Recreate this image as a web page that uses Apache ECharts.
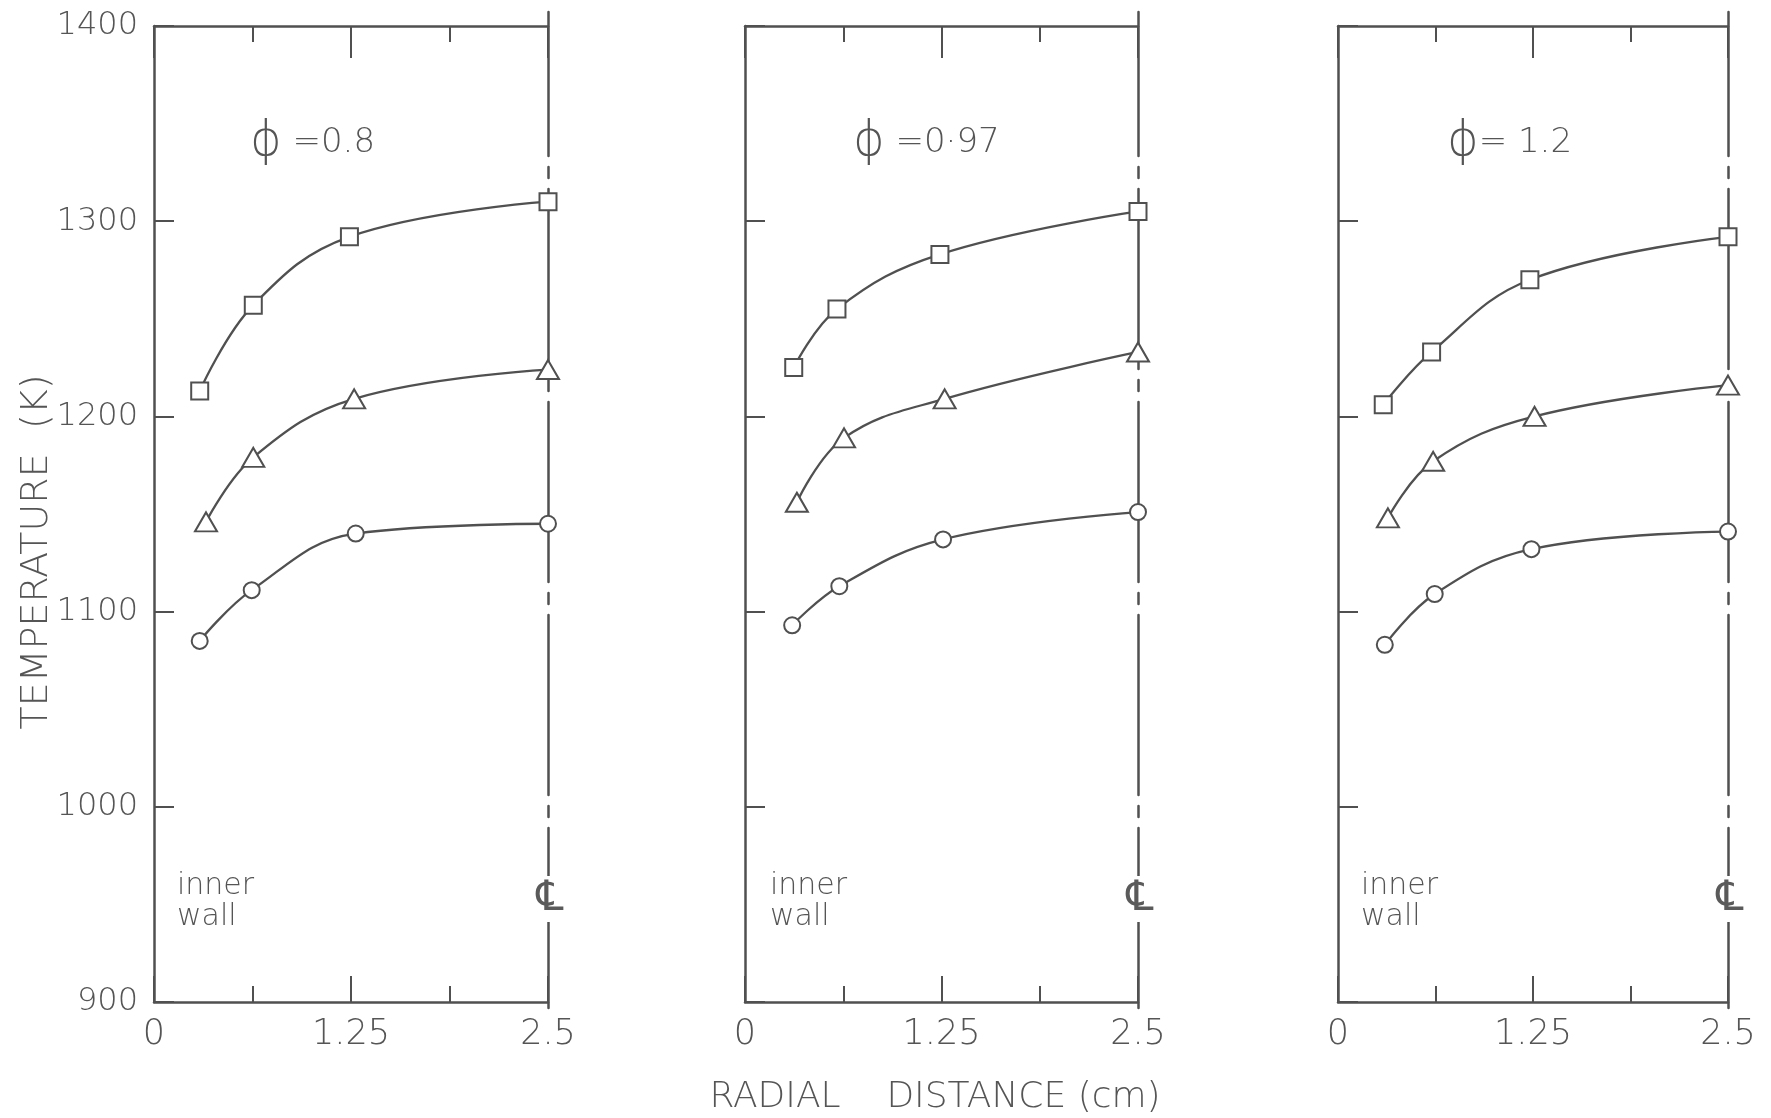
<!DOCTYPE html>
<html><head><meta charset="utf-8">
<script src="https://cdn.jsdelivr.net/npm/echarts@6/dist/echarts.min.js"></script>
<style>html,body{margin:0;padding:0;background:#fff}#c{width:1771px;height:1118px}</style>
</head><body><div id="c"></div>
<script>
// ---- data (radial distance in cm, temperature in K) ----
const panelPhi = ['=0.8', '=0\u00B797', '= 1.2'];
const xTickLabels = ['0', '1.25', '2.5'];
const yTickLabels = ['900', '1000', '1100', '1200', '1300', '1400'];

// phi = 0.8
const p1SquareX = [0.29, 0.63, 1.24, 2.5];
const p1SquareT = [1213, 1257, 1292, 1310];
const p1TriX    = [0.33, 0.63, 1.27, 2.5];
const p1TriT    = [1146, 1179, 1209, 1224];
const p1CircX   = [0.29, 0.62, 1.28, 2.5];
const p1CircT   = [1085, 1111, 1140, 1145];
// phi = 0.97
const p2SquareX = [0.31, 0.585, 1.24, 2.5];
const p2SquareT = [1225, 1255, 1283, 1305];
const p2TriX    = [0.33, 0.63, 1.27, 2.5];
const p2TriT    = [1156, 1189, 1209, 1233];
const p2CircX   = [0.30, 0.60, 1.26, 2.5];
const p2CircT   = [1093, 1113, 1137, 1151];
// phi = 1.2
const p3SquareX = [0.29, 0.60, 1.23, 2.5];
const p3SquareT = [1206, 1233, 1270, 1292];
const p3TriX    = [0.32, 0.61, 1.26, 2.5];
const p3TriT    = [1148, 1177, 1200, 1216];
const p3CircX   = [0.30, 0.62, 1.24, 2.5];
const p3CircT   = [1083, 1109, 1132, 1141];

// ---- layout / style ----
const FONT = '"DejaVu Sans", sans-serif';
const FW = 200;
const INK = '#505050';
const TXT = '#555555';
const panels = [
  {left: 154, width: 394},
  {left: 745, width: 393},
  {left: 1338, width: 390}
];
const TOP = 26, HEIGHT = 976;

const grid = [], xAxis = [], yAxis = [], series = [];
panels.forEach((p, i) => {
  grid.push({left: p.left, top: TOP, width: p.width, height: HEIGHT});
});
panels.forEach((p, i) => {
  grid.push({left: p.left, top: 12, width: p.width, height: 1001});
});

const axLine = {show: true, onZero: false, lineStyle: {color: INK, width: 2.5}};
panels.forEach((p, i) => {
  // bottom x axis
  xAxis.push({
    gridIndex: i, type: 'value', min: 0, max: 2.5, interval: 1.25, position: 'bottom',
    axisLine: axLine,
    axisTick: {show: true, inside: true, length: 26, lineStyle: {color: INK, width: 2}},
    minorTick: {show: true, splitNumber: 2, length: 16, lineStyle: {color: INK, width: 2}},
    splitLine: {show: false}, minorSplitLine: {show: false},
    axisLabel: {show: true, margin: 15, fontSize: 35, color: TXT, fontFamily: FONT, fontWeight: FW,
      formatter: v => xTickLabels[Math.round(v / 1.25)]}
  });
  // top x axis
  xAxis.push({
    gridIndex: i, type: 'value', min: 0, max: 2.5, interval: 1.25, position: 'top',
    axisLine: axLine,
    axisTick: {show: true, inside: true, length: 32, lineStyle: {color: INK, width: 2}},
    minorTick: {show: true, splitNumber: 2, length: 16, lineStyle: {color: INK, width: 2}},
    splitLine: {show: false}, minorSplitLine: {show: false},
    axisLabel: {show: false}
  });
  yAxis.push({
    gridIndex: i, type: 'value', min: 900, max: 1400, interval: 100, position: 'left',
    axisLine: axLine,
    axisTick: {show: true, inside: true, length: 20, lineStyle: {color: INK, width: 2}},
    splitLine: {show: false},
    axisLabel: {show: i === 0, margin: 16, fontSize: 32, color: TXT, fontFamily: FONT, fontWeight: FW,
      formatter: v => yTickLabels[Math.round((v - 900) / 100)]}
  });
});
// centre-line axes
panels.forEach((p, i) => {
  xAxis.push({gridIndex: 3 + i, type: 'value', min: 0, max: 1, show: false});
  yAxis.push({
    gridIndex: 3 + i, type: 'value', min: 0, max: 1, inverse: true, position: 'right',
    axisLine: {show: true, onZero: false, lineStyle: {color: INK, width: 2.5, type: [180, 11, 11, 11], dashOffset: 36}},
    axisTick: {show: false}, axisLabel: {show: false}, splitLine: {show: false}
  });
});

function mk(i, xs, ts, sym, size) {
  return {
    type: 'line', xAxisIndex: 2 * i, yAxisIndex: i,
    data: xs.map((x, k) => [x, ts[k]]),
    smooth: 0.4, symbol: sym, symbolSize: size, showAllSymbol: true, clip: false,
    lineStyle: {color: INK, width: 2.3},
    itemStyle: {color: '#ffffff', borderColor: INK, borderWidth: 2},
    z: 5, silent: true
  };
}
series.push(
  mk(0, p1SquareX, p1SquareT, 'rect', 17), mk(0, p1TriX, p1TriT, 'triangle', [22, 19]), mk(0, p1CircX, p1CircT, 'circle', 16),
  mk(1, p2SquareX, p2SquareT, 'rect', 17), mk(1, p2TriX, p2TriT, 'triangle', [22, 19]), mk(1, p2CircX, p2CircT, 'circle', 16),
  mk(2, p3SquareX, p3SquareT, 'rect', 17), mk(2, p3TriX, p3TriT, 'triangle', [22, 19]), mk(2, p3CircX, p3CircT, 'circle', 16)
);

const txt = (x, y, text, size, extra) => ({
  type: 'text', x: x, y: y, z: 100,
  style: Object.assign({text: text, fontSize: size, fontFamily: FONT, fontWeight: FW, fill: TXT,
    align: 'left', verticalAlign: 'middle'}, extra || {})
});

const graphic = [];
const phiX = [250, 853, 1447];
const wallX = [177, 770, 1361];
panels.forEach((p, i) => {
  graphic.push(txt(phiX[i], 143, '{p|\u03D5}' + (i === 2 ? '' : ' ') + panelPhi[i], 34, {
    rich: {p: {fontSize: 48, fontFamily: FONT, fontWeight: FW, fill: TXT}}
  }));
  graphic.push(txt(wallX[i], 902, 'inner\nwall', 30, {lineHeight: 31}));
  graphic.push(txt(p.left + p.width + 2, 899, '\u2104', 42, {align: 'center', backgroundColor: '#fff', padding: [2, 0, 2, 0], fontWeight: 'normal', fill: '#5a5a5a'}));
});
graphic.push({type: 'text', x: 37, y: 552, rotation: Math.PI / 2, z: 100,
  style: {text: 'TEMPERATURE  (K)', fontSize: 38, fontFamily: FONT, fontWeight: FW, fill: TXT, align: 'center', verticalAlign: 'middle'}});
graphic.push(txt(935, 1098, 'RADIAL    DISTANCE (cm)', 36, {align: 'center'}));

const chart = echarts.init(document.getElementById('c'), null, {renderer: 'canvas'});
chart.setOption({
  animation: false, backgroundColor: '#ffffff',
  grid, xAxis, yAxis, series, graphic
});
</script></body></html>
